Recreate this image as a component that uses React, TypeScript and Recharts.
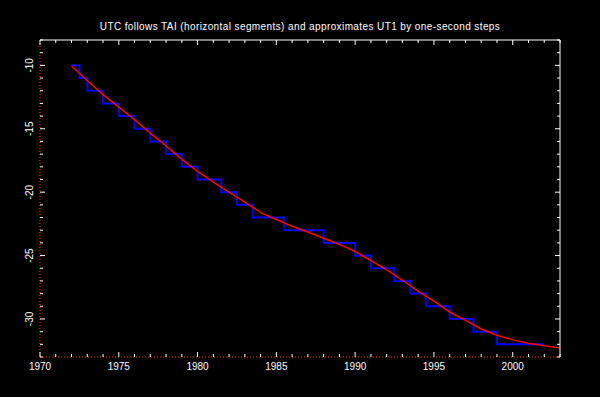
import { LineChart, Line, XAxis, YAxis } from "recharts";

// UT1 - TAI, seconds at the start of each year
const ut1Years = [1972, 1973, 1974, 1975, 1976, 1977, 1978, 1979, 1980, 1981, 1982, 1983, 1984, 1985, 1986, 1987, 1988, 1989, 1990, 1991, 1992, 1993, 1994, 1995, 1996, 1997, 1998, 1999, 2000, 2001, 2002, 2003];
const ut1Tai = [-10.05, -11.19, -12.31, -13.3, -14.28, -15.34, -16.35, -17.41, -18.36, -19.2, -19.99, -20.78, -21.61, -22.16, -22.69, -23.14, -23.64, -24.12, -24.68, -25.39, -26.13, -26.94, -27.8, -28.6, -29.45, -30.11, -30.79, -31.29, -31.65, -31.91, -32.12, -32.29];

// UTC - TAI, one-second steps
const stepTimes = [1972, 1972.5, 1973, 1974, 1975, 1976, 1977, 1978, 1979, 1980, 1981.5, 1982.5, 1983.5, 1985.5, 1988, 1990, 1991, 1992.5, 1993.5, 1994.5, 1996, 1997.5, 1999, 2002];
const utcTai = [-10, -11, -12, -13, -14, -15, -16, -17, -18, -19, -20, -21, -22, -23, -24, -25, -26, -27, -28, -29, -30, -31, -32, -32];

const xTicks = [1970, 1971, 1972, 1973, 1974, 1975, 1976, 1977, 1978, 1979, 1980, 1981, 1982, 1983, 1984, 1985, 1986, 1987, 1988, 1989, 1990, 1991, 1992, 1993, 1994, 1995, 1996, 1997, 1998, 1999, 2000, 2001, 2002, 2003];
const yTicks = [-33, -32, -31, -30, -29, -28, -27, -26, -25, -24, -23, -22, -21, -20, -19, -18, -17, -16, -15, -14, -13, -12, -11, -10, -9, -8];

const title = "UTC follows TAI (horizontal segments) and approximates UT1 by one-second steps";

const ut1Data = ut1Years.map((t, i) => ({ t, v: ut1Tai[i] }));
const utcData = stepTimes.map((t, i) => ({ t, v: utcTai[i] }));

const font = "'Liberation Sans', Arial, sans-serif";
// plot box size, used to mirror the ticks onto the top and right edges
const plotW = 520;
const plotH = 317;

const BottomTick = (props: any) => {
  const { x, y, payload } = props;
  const len = payload.value % 5 === 0 ? 5 : 3;
  return (
    <g>
      <line x1={x} x2={x} y1={y} y2={y - len} stroke="#fff" strokeWidth={1} />
      <line x1={x} x2={x} y1={y - plotH} y2={y - plotH + len} stroke="#fff" strokeWidth={1} />
      {len === 5 && (
        <text x={x} y={y + 13} textAnchor="middle" fill="#fff" fontSize={10} fontFamily={font}>
          {payload.value}
        </text>
      )}
    </g>
  );
};

const LeftTick = (props: any) => {
  const { x, y, payload } = props;
  const len = payload.value % 5 === 0 ? 5 : 3;
  return (
    <g>
      <line x1={x} x2={x + len} y1={y} y2={y} stroke="#fff" strokeWidth={1} />
      <line x1={x + plotW} x2={x + plotW - len} y1={y} y2={y} stroke="#fff" strokeWidth={1} />
      {len === 5 && (
        <text
          x={x - 10}
          y={y}
          transform={`rotate(-90 ${x - 10} ${y})`}
          textAnchor="middle"
          dominantBaseline="central"
          fill="#fff"
          fontSize={10}
          fontFamily={font}
        >
          {payload.value}
        </text>
      )}
    </g>
  );
};

export default function App() {
  return (
    <div style={{ position: "absolute", left: 0, top: 0, width: 600, height: 397, background: "#000" }}>
      <div
        style={{
          position: "absolute",
          top: 20,
          left: 0,
          width: 600,
          textAlign: "center",
          color: "#fff",
          fontSize: 10,
          lineHeight: "14px",
          letterSpacing: 0.4,
          fontFamily: font,
        }}
      >
        {title}
      </div>
      <LineChart width={600} height={397} margin={{ top: 39, right: 39, bottom: 20, left: 10 }}>
        <XAxis
          xAxisId="b"
          dataKey="t"
          type="number"
          domain={[1970, 2003]}
          ticks={xTicks}
          interval={0}
          height={20}
          tickSize={0}
          tickMargin={0}
          tickLine={false}
          axisLine={{ stroke: "#ff2020", strokeDasharray: "1 2" }}
          tick={<BottomTick />}
        />
        <XAxis
          xAxisId="t"
          orientation="top"
          type="number"
          domain={[1970, 2003]}
          height={1}
          tick={false}
          tickLine={false}
          axisLine={{ stroke: "#fff" }}
        />
        <YAxis
          yAxisId="l"
          type="number"
          domain={[-33, -8]}
          ticks={yTicks}
          interval={0}
          width={30}
          tickSize={0}
          tickMargin={0}
          tickLine={false}
          axisLine={{ stroke: "#ff2020", strokeDasharray: "1 2" }}
          tick={<LeftTick />}
        />
        <YAxis
          yAxisId="r"
          orientation="right"
          type="number"
          domain={[-33, -8]}
          width={1}
          tick={false}
          tickLine={false}
          axisLine={{ stroke: "#fff" }}
        />
        <Line
          xAxisId="b"
          yAxisId="l"
          data={utcData}
          dataKey="v"
          type="stepAfter"
          stroke="#0000ff"
          strokeWidth={2}
          dot={false}
          isAnimationActive={false}
        />
        <Line
          xAxisId="b"
          yAxisId="l"
          data={ut1Data}
          dataKey="v"
          type="linear"
          stroke="#ff0000"
          strokeWidth={1.5}
          dot={false}
          isAnimationActive={false}
        />
      </LineChart>
    </div>
  );
}
